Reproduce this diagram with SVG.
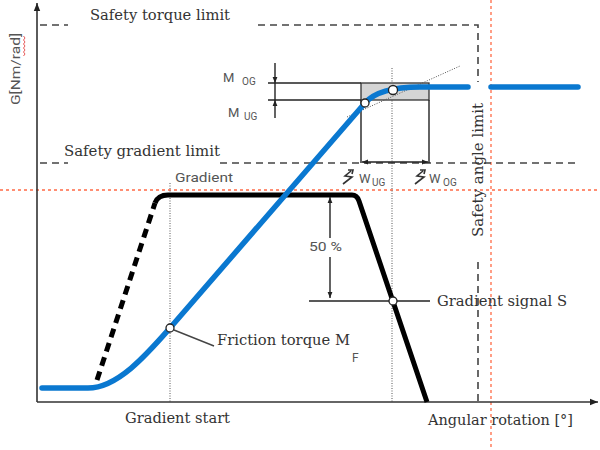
<svg xmlns="http://www.w3.org/2000/svg" width="600" height="450" viewBox="0 0 600 450">
<defs>
<marker id="arr" viewBox="0 0 10 10" refX="10" refY="5" markerWidth="6" markerHeight="6" orient="auto-start-reverse" markerUnits="userSpaceOnUse">
<path d="M0,1 L10,5 L0,9 Z" fill="#222"/>
</marker>
<marker id="axarr" viewBox="0 0 10 10" refX="10" refY="5" markerWidth="9" markerHeight="8" orient="auto" markerUnits="userSpaceOnUse">
<path d="M0,1 L10,5 L0,9 Z" fill="#222"/>
</marker>
<style>
.red{stroke:#ff6a45;stroke-width:1.3;stroke-dasharray:3 3;fill:none}
.lim{stroke:#444;stroke-width:1.6;stroke-dasharray:7 5;fill:none}
.dot{stroke:#555;stroke-width:1;stroke-dasharray:1 1.5;fill:none}
.thin{stroke:#222;stroke-width:1.4;fill:none}
.serif{font-family:"DejaVu Serif","Liberation Serif",serif;font-size:14px;fill:#333}
.sans{font-family:Roboto,"Liberation Sans",sans-serif;font-size:13px;fill:#555}
.sub{font-family:Roboto,"Liberation Sans",sans-serif;font-size:10px;fill:#555}
.pt{fill:#fff;stroke:#222;stroke-width:1.3}
</style>
</defs>
<rect width="600" height="450" fill="#fff"/>

<g id="reference-lines">
<line class="red" x1="0" y1="190" x2="600" y2="190"/>
<line class="red" x1="491" y1="0" x2="491" y2="450"/>
<line class="dot" x1="170" y1="183" x2="170" y2="402"/>
<line class="dot" x1="392" y1="68" x2="392" y2="402"/>
</g>

<g id="axes">
<line class="thin" x1="37" y1="402" x2="37" y2="3" marker-end="url(#axarr)" style="stroke:#333;stroke-width:1.6"/>
<line class="thin" x1="37" y1="402" x2="598" y2="402" marker-end="url(#axarr)" style="stroke:#333;stroke-width:1.6"/>
<text class="sans" transform="translate(20,105) rotate(-90)" textLength="72" lengthAdjust="spacingAndGlyphs">G[Nm/rad]</text>
<polyline points="23.5,36 25,38 23.5,40 25,42 23.5,44 25,46 23.5,48 25,50 23.5,52 25,54 23.5,56" fill="none" stroke="#e03030" stroke-width="0.8"/>
<text class="serif" x="125" y="423" textLength="105" lengthAdjust="spacingAndGlyphs">Gradient start</text>
<text class="serif" x="428" y="425" textLength="145" lengthAdjust="spacingAndGlyphs">Angular rotation [°]</text>
</g>

<g id="safety-torque-limit">
<line class="lim" x1="40" y1="25" x2="68" y2="25"/>
<polyline class="lim" points="258,25 478,25 478,82"/>
<line class="lim" x1="478" y1="262" x2="478" y2="402"/>
<text class="serif" x="90" y="20" textLength="140" lengthAdjust="spacingAndGlyphs">Safety torque limit</text>
</g>

<g id="safety-gradient-limit">
<line class="lim" x1="40" y1="163" x2="68" y2="163"/>
<line class="lim" x1="220" y1="163" x2="578" y2="163"/>
<text class="serif" x="64" y="156" textLength="156" lengthAdjust="spacingAndGlyphs">Safety gradient limit</text>
</g>

<g id="safety-angle-limit">
<text class="serif" transform="translate(483,237) rotate(-90)" textLength="134" lengthAdjust="spacingAndGlyphs">Safety angle limit</text>
</g>

<g id="gradient-signal">
<path d="M97,380 L155,203" fill="none" stroke="#000" stroke-width="5" stroke-dasharray="9 6"/>
<path d="M155,203 Q158,195 168,195 L352,195 Q357,195 359,201 L427,402" fill="none" stroke="#000" stroke-width="5"/>
<text class="sans" x="175" y="182" textLength="58" lengthAdjust="spacingAndGlyphs">Gradient</text>
</g>

<g id="tolerance-box">
<rect x="361" y="83" width="68" height="17" fill="#d4d4d4" stroke="#333" stroke-width="1.3"/>
<line class="dot" x1="347" y1="117" x2="460" y2="66"/>
<line class="thin" x1="268" y1="83" x2="361" y2="83"/>
<line class="thin" x1="268" y1="100" x2="361" y2="100"/>
<line class="thin" x1="275" y1="63" x2="275" y2="83" marker-end="url(#arr)"/>
<line class="thin" x1="275" y1="118" x2="275" y2="100" marker-end="url(#arr)"/>
<line class="thin" x1="275" y1="83" x2="275" y2="100"/>
<text class="sans" x="223" y="82">M</text><text class="sub" x="242" y="85">OG</text>
<text class="sans" x="228" y="117">M</text><text class="sub" x="244" y="120">UG</text>
<line class="thin" x1="361" y1="100" x2="361" y2="163"/>
<line class="thin" x1="429" y1="100" x2="429" y2="163"/>
<line class="thin" x1="362" y1="162" x2="428" y2="162" marker-start="url(#arr)" marker-end="url(#arr)"/>
</g>

<g id="friction-torque">
<path d="M42,388 L88,388 C118,388 148,353 170,328 L365,103 C375,91.5 395,87 420,87 L468,87" fill="none" stroke="#0a78d0" stroke-width="5.5" stroke-linecap="round"/>
<line x1="491" y1="87" x2="578" y2="87" stroke="#0a78d0" stroke-width="5.5" stroke-linecap="round"/>
</g>

<g id="angle-tolerances">
<path d="M343,184 L352,177 L345,176 L351,171 M348,170 L353,170 L352,174" fill="none" stroke="#333" stroke-width="1.6"/>
<text class="sans" x="359" y="183">W</text><text class="sub" x="372" y="186">UG</text>
<path d="M415,184 L424,177 L417,176 L423,171 M420,170 L425,170 L424,174" fill="none" stroke="#333" stroke-width="1.6"/>
<text class="sans" x="429" y="183">W</text><text class="sub" x="443" y="186">OG</text>
</g>

<g id="fifty-percent">
<line class="thin" x1="330" y1="238" x2="330" y2="197" marker-end="url(#arr)"/>
<line class="thin" x1="330" y1="257" x2="330" y2="298" marker-end="url(#arr)"/>
<text class="sans" x="309" y="251" textLength="33" lengthAdjust="spacingAndGlyphs">50 %</text>
<line class="thin" x1="309" y1="301" x2="430" y2="301"/>
<text class="serif" x="437" y="306" textLength="130" lengthAdjust="spacingAndGlyphs">Gradient signal S</text>
</g>

<g id="labels-friction">
<line x1="174" y1="330" x2="214" y2="346" stroke="#444" stroke-width="1.5"/>
<text class="serif" x="217" y="345" textLength="133" lengthAdjust="spacingAndGlyphs">Friction torque M</text>
<text class="sans" x="352" y="362" style="font-size:12px">F</text>
</g>

<g id="points">
<circle class="pt" cx="170" cy="328" r="4"/>
<circle class="pt" cx="365" cy="103" r="4"/>
<circle class="pt" cx="393" cy="90" r="4.5"/>
<circle class="pt" cx="393" cy="301" r="4"/>
</g>
</svg>
